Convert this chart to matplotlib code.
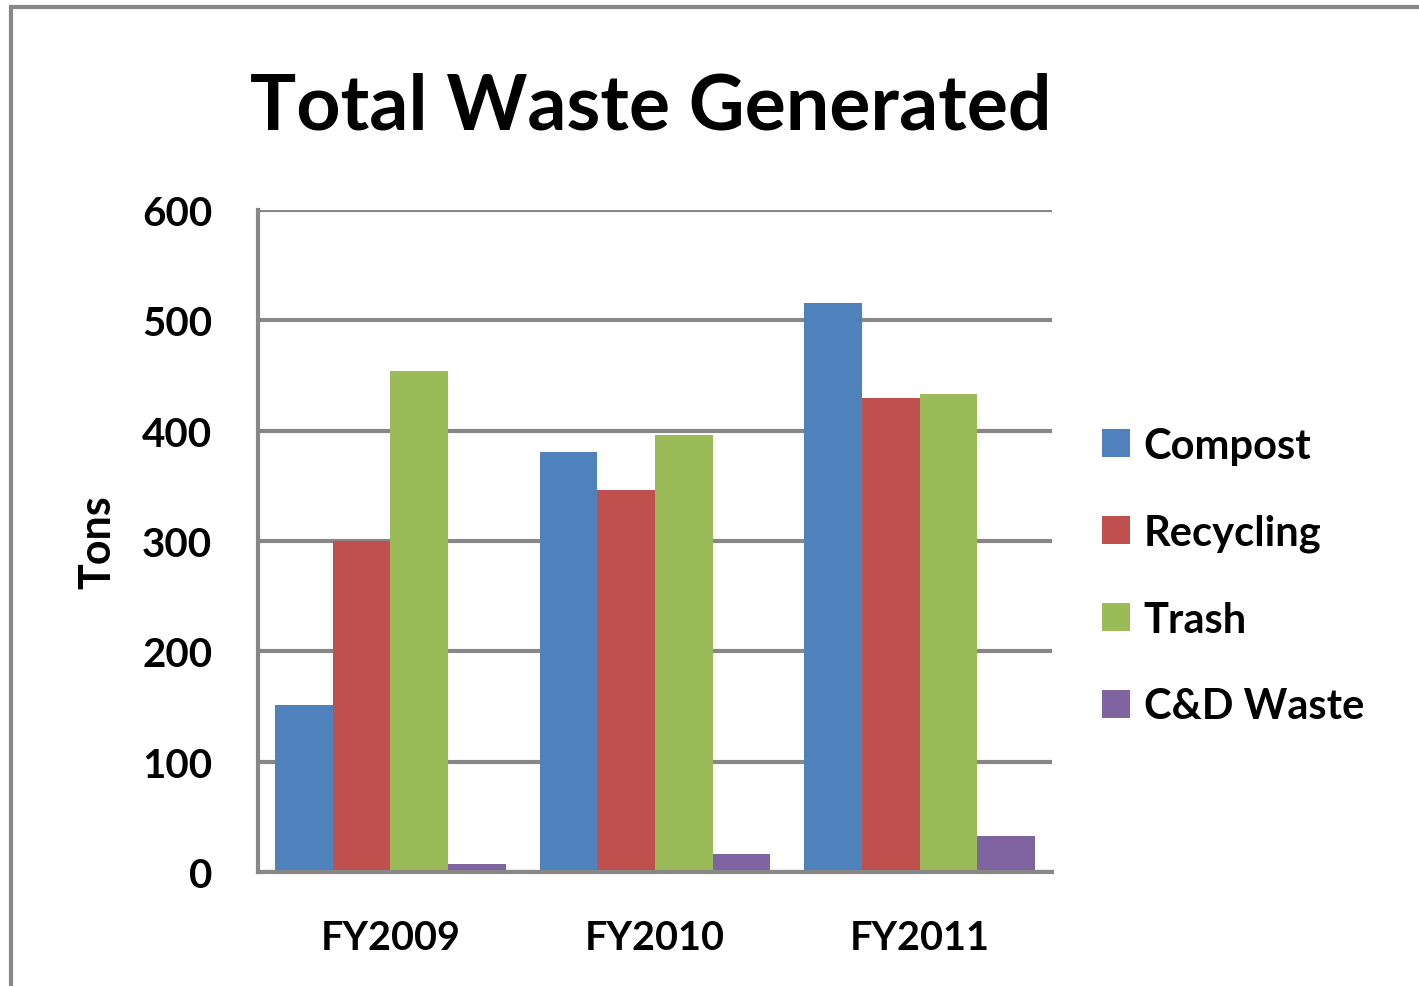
import matplotlib
matplotlib.use("Agg")
import matplotlib.pyplot as plt
import numpy as np
from matplotlib.patches import Rectangle

categories = ["FY2009", "FY2010", "FY2011"]
series_names = ["Compost", "Recycling", "Trash", "C&D Waste"]
compost = [151, 381, 516]
recycling = [300, 346, 430]
trash = [454, 396, 433]
cd_waste = [7, 16, 33]
colors = ["#4F81BD", "#C0504D", "#9BBB59", "#8064A2"]
yticks = [0, 100, 200, 300, 400, 500, 600]

plt.rcParams['font.family'] = ['Lato', 'DejaVu Sans']
plt.rcParams['font.weight'] = 'bold'

fig = plt.figure(figsize=(14.19, 9.87), dpi=100)
ax = fig.add_axes([258/1419, 1-873/987, (1052-258)/1419, (873-211)/987])

# outer frame
fig.patches.append(Rectangle((11/1419, -0.02), 1.05, 1-8/987+0.02, transform=fig.transFigure,
                             fill=False, edgecolor="#878787", linewidth=3, clip_on=False))

x = np.arange(len(categories))
bw = 0.218
data = [compost, recycling, trash, cd_waste]
for i, (vals, c, name) in enumerate(zip(data, colors, series_names)):
    ax.bar(x + (i - 1.5) * bw, vals, bw, color=c, label=name, zorder=3, linewidth=0)

ax.set_xlim(-0.5, 2.5)
ax.set_ylim(0, 600)
ax.set_yticks(yticks)
ax.set_yticklabels([str(v) for v in yticks], fontsize=29, fontweight='bold')
ax.set_xticks(x)
ax.set_xticklabels(categories, fontsize=28.5, fontweight='bold')
ax.tick_params(axis='both', length=0)
ax.tick_params(axis='y', pad=33)
ax.tick_params(axis='x', pad=34)
ax.grid(axis='y', color="#878787", linewidth=3, zorder=0)
for s in ['top', 'right']:
    ax.spines[s].set_visible(False)
for s in ['left', 'bottom']:
    ax.spines[s].set_color("#878787")
    ax.spines[s].set_linewidth(3)
    ax.spines[s].set_zorder(4)

ax.set_ylabel("Tons", fontsize=31, fontweight='bold', labelpad=18)
fig.text(651/1419, 1-108/987, "Total Waste Generated", fontsize=55.5, fontweight='bold',
         ha='center', va='center')

leg = fig.legend(loc='center left', bbox_to_anchor=(1102/1419, 1-577/987), frameon=False,
                 fontsize=30, handlelength=0.67, handleheight=0.67, labelspacing=1.17,
                 handletextpad=0.33, borderpad=0, borderaxespad=0)

fig.savefig("out.png", dpi=100)
